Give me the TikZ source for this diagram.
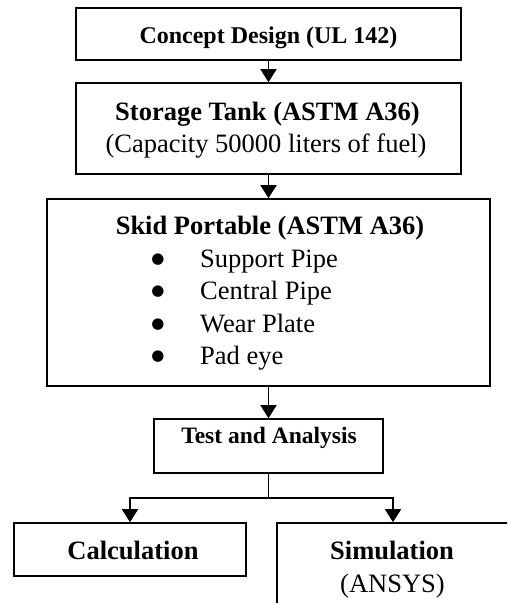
\documentclass[tikz,border=0pt]{standalone}
\usepackage{fontspec}
\setmainfont{Liberation Serif}
\newfontfamily\bulfont{DejaVu Sans}
\usetikzlibrary{arrows.meta}
\tikzset{
  box/.style={draw, line width=1.6pt, inner sep=0pt},
  txt/.style={inner sep=0pt, anchor=base},
  big/.style={font=\fontsize{26.5}{32}\selectfont},
  bigb/.style={font=\fontsize{26.5}{32}\selectfont\bfseries},
  bul/.style={inner sep=0pt, anchor=center, font=\bulfont\fontsize{15}{15}\selectfont},
  arr/.style={line width=1.6pt, -{Triangle[width=16pt,length=13pt]}},
  ln/.style={line width=1.6pt}
}
\begin{document}
\begin{tikzpicture}[x=1pt,y=-1pt]
\useasboundingbox (0,0) rectangle (507,603);
\clip (0,0) rectangle (507,603);
\fill[white] (0,0) rectangle (507,603);
% boxes
\node[box, minimum width=385pt, minimum height=52pt] (c1) at (268.5,34) {};
\node[box, minimum width=385pt, minimum height=91pt] (c2) at (268.5,128.5) {};
\node[box, minimum width=443pt, minimum height=187pt] (c3) at (268.5,292.5) {};
\node[box, minimum width=229pt, minimum height=54pt] (c4) at (268.5,446) {};
\node[box, minimum width=232pt, minimum height=53pt] (c5) at (130,549.5) {};
\node[box, minimum width=240pt, minimum height=100pt] (c6) at (397,573) {};
% texts
\node[txt, font=\fontsize{24}{28}\selectfont\bfseries] (t1) at (268.5,43) {Concept Design (UL 142)};
\node[txt, bigb] (t2a) at (267.5,120) {Storage Tank (ASTM A36)};
\node[txt, big] (t2b) at (266,152) {(Capacity 50000 liters of fuel)};
\node[txt, bigb] (t3) at (270,234) {Skid Portable (ASTM A36)};
\node[bul] (b1) at (158,260) {●};
\node[bul] (b2) at (158,292) {●};
\node[bul] (b3) at (158,325) {●};
\node[bul] (b4) at (158,357) {●};
\node[txt, big, anchor=base west] (l1) at (200,267) {Support Pipe};
\node[txt, big, anchor=base west] (l2) at (200,299) {Central Pipe};
\node[txt, big, anchor=base west] (l3) at (200,332) {Wear Plate};
\node[txt, big, anchor=base west] (l4) at (200,364) {Pad eye};
\node[txt, font=\fontsize{23.5}{28}\selectfont\bfseries] (t4) at (269,443) {Test and Analysis};
\node[txt, bigb] (t5) at (133,559) {Calculation};
\node[txt, bigb] (t6a) at (392,559) {Simulation};
\node[txt, big] (t6b) at (392.5,592) {(ANSYS)};
% connectors
\coordinate (split) at (268.5,498);
\draw[arr] (c1.south) -- (c2.north);
\draw[arr] (c2.south) -- (c3.north);
\draw[arr] (c3.south) -- (c4.north);
\draw[ln] (c4.south) -- (split);
\draw[arr] (split) -| (c5.north);
\draw[arr] (split) -| ([xshift=-4pt]c6.north);
\end{tikzpicture}
\end{document}
